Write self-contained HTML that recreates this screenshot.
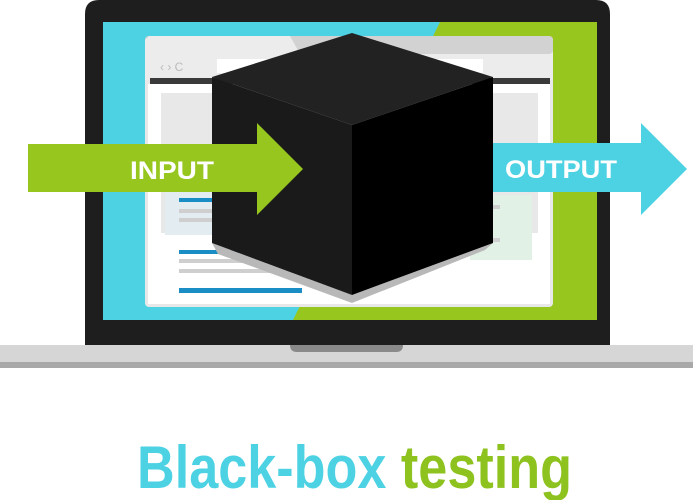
<!DOCTYPE html>
<html><head><style>html,body{margin:0;padding:0;background:#fff;width:693px;height:500px;overflow:hidden}</style></head>
<body>
<svg width="693" height="500" viewBox="0 0 693 500" xmlns="http://www.w3.org/2000/svg">
<!-- bezel -->
<path d="M85 345 V14 Q85 0 99 0 H596 Q610 0 610 14 V345 Z" fill="#1e1e1e"/>
<!-- screen -->
<rect x="103" y="22" width="494" height="298" fill="#97c71f"/>
<polygon points="103,22 440,22 293,320 103,320" fill="#4dd2e4"/>
<!-- browser -->
<rect x="145" y="36" width="408" height="271" rx="4" fill="#e8e8e8"/>
<rect x="145" y="36" width="408" height="18" rx="4" fill="#d2d2d2"/>
<polygon points="145,54 145,40 149,36 290,36 300,54" fill="#ececec"/>
<rect x="145" y="54" width="408" height="26" fill="#ececec"/>
<text x="160" y="71" font-family="Liberation Sans,sans-serif" font-size="12" fill="#bbb">‹ › C</text>
<rect x="217" y="59" width="266" height="14" fill="#fff"/>
<rect x="150" y="78" width="400" height="6" fill="#3a3a3a"/>
<rect x="148" y="84" width="402" height="220" fill="#fff"/>
<rect x="161" y="93" width="377" height="140" fill="#e8e8e8"/>
<rect x="165" y="190" width="80" height="45" fill="#e3ecf1"/>
<rect x="470" y="195" width="62" height="65" fill="#e2f1e6"/>
<rect x="179" y="198" width="60" height="4" fill="#1a8ec4"/>
<rect x="179" y="209" width="60" height="4" fill="#cfcfcf"/>
<rect x="179" y="218" width="60" height="4" fill="#cfcfcf"/>
<rect x="179" y="250" width="60" height="4" fill="#1a8ec4"/>
<rect x="179" y="259" width="100" height="4" fill="#cfcfcf"/>
<rect x="179" y="269" width="120" height="4" fill="#cfcfcf"/>
<rect x="179" y="288" width="123" height="5" fill="#1a8ec4"/>
<rect x="480" y="205" width="20" height="4" fill="#cfcfcf"/>
<rect x="480" y="238" width="20" height="4" fill="#cfcfcf"/>
<!-- cube shadow -->
<polygon points="218,254 352,303 485,250 493,243 352,295 212,243" fill="#b8b8b8"/>
<!-- cube -->
<polygon points="352,33 493,77 352,125 212,77" fill="#222"/>
<polygon points="212,77 352,125 352,295 212,243" fill="#1a1a1a"/>
<polygon points="352,125 493,77 493,243 352,295" fill="#000"/>
<!-- input arrow -->
<polygon points="28,144 257,144 257,123 303,169 257,215 257,192 28,192" fill="#97c71f"/>
<text x="130" y="179" font-family="Liberation Sans,sans-serif" font-weight="bold" font-size="25" fill="#fff" textLength="84" lengthAdjust="spacingAndGlyphs">INPUT</text>
<!-- output arrow -->
<polygon points="493,143 641,143 641,123 687,169 641,215 641,192 493,192" fill="#4dd2e4"/>
<text x="505" y="178" font-family="Liberation Sans,sans-serif" font-weight="bold" font-size="25" fill="#fff" textLength="112" lengthAdjust="spacingAndGlyphs">OUTPUT</text>
<!-- base -->
<rect x="0" y="345" width="693" height="18" fill="#d6d6d6"/>
<rect x="0" y="362" width="693" height="6" fill="#a8a8a8"/>
<path d="M290 345 H403 Q403 352 396 352 H297 Q290 352 290 345 Z" fill="#8a8a8a"/>
<!-- title -->
<text x="137" y="488" font-family="Liberation Sans,sans-serif" font-weight="bold" font-size="60" textLength="435" lengthAdjust="spacingAndGlyphs"><tspan fill="#4dd2e4">Black-box </tspan><tspan fill="#8dc21f">testing</tspan></text>
</svg>
</body></html>
